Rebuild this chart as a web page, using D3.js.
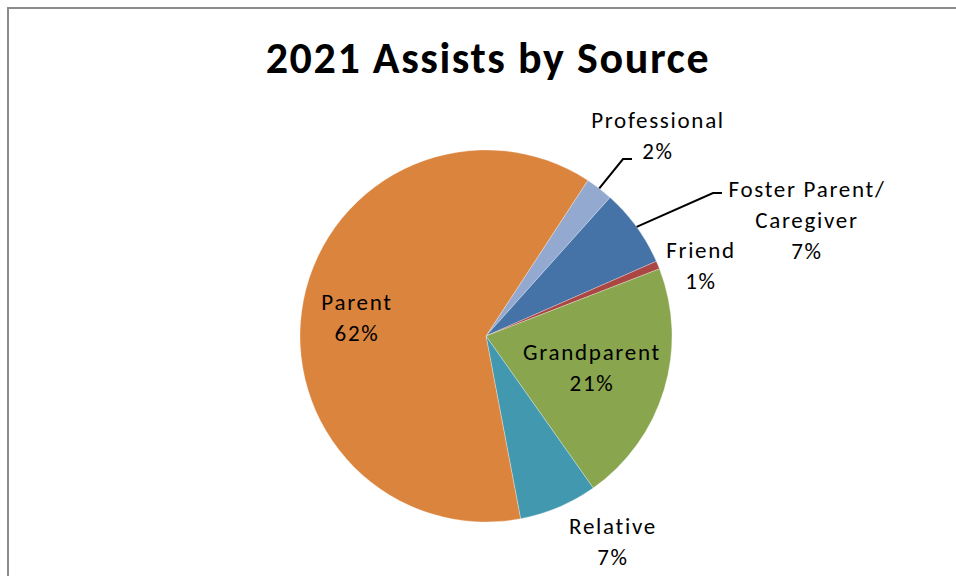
<!DOCTYPE html>
<html>
<head>
<meta charset="utf-8">
<script src="https://cdn.jsdelivr.net/npm/d3@7/dist/d3.min.js"></script>
<style>
  html, body { margin: 0; padding: 0; background: #fff; }
  svg { display: block; }
</style>
</head>
<body>
<svg id="chart" width="956" height="576"></svg>
<script>
// ---- data ----
const title = "2021 Assists by Source";
const categories = ["Professional", "Foster Parent/Caregiver", "Friend", "Grandparent", "Relative", "Parent"];
const labelLines = [["Professional"], ["Foster Parent/", "Caregiver"], ["Friend"], ["Grandparent"], ["Relative"], ["Parent"]];
const values = [2.4, 6.8, 0.7, 21.1, 6.8, 62.2];
const colors = ["#93A9CF", "#4572A7", "#AA4643", "#89A54E", "#4198AF", "#DB843D"];

// ---- layout ----
const W = 956, H = 576;
const cx = 486, cy = 336, R = 186;
const startDeg = 33.2;
const fontFam = "Carlito, Lato, 'Open Sans', sans-serif";
const labelSize = 23, lineH = 31, labelSpacing = 1.7;
// label block centers relative to pie centre, and leader elbows
const labelLayout = [
  { dx: 172, dy: -200, leader: [[137, -177], [146, -177]] },
  { dx: 321, dy: -116, leader: [[227, -143], [236, -143]] },
  { dx: 215, dy: -70 },
  { dx: 106, dy: 32 },
  { dx: 127, dy: 206 },
  { dx: -129, dy: -18 }
];

const svg = d3.select("#chart");

// frame
svg.append("rect")
  .attr("x", 8).attr("y", 8)
  .attr("width", W + 20).attr("height", H + 20)
  .attr("fill", "none").attr("stroke", "#8c8c8c").attr("stroke-width", 2);

// title
svg.append("text")
  .attr("x", 488).attr("y", 73)
  .attr("text-anchor", "middle")
  .attr("font-family", fontFam)
  .attr("font-weight", "bold")
  .attr("font-size", 44)
  .attr("letter-spacing", 1.6)
  .attr("fill", "#000")
  .text(title);

const data = categories.map((c, i) => ({ name: c, value: values[i], color: colors[i], lines: labelLines[i], i }));

const pie = d3.pie().value(d => d.value).sort(null)
  .startAngle(startDeg * Math.PI / 180)
  .endAngle(startDeg * Math.PI / 180 + 2 * Math.PI);
const arcs = pie(data);
const arc = d3.arc().innerRadius(0).outerRadius(R);
const edge = d3.arc().innerRadius(R).outerRadius(R);

const g = svg.append("g").attr("transform", `translate(${cx},${cy})`);

g.selectAll("path.slice").data(arcs).enter().append("path")
  .attr("class", "slice")
  .attr("d", arc)
  .attr("fill", d => d.data.color)
  .attr("stroke", "#ffffff")
  .attr("stroke-width", 0.6)
  .attr("stroke-opacity", 0.5);

const total = d3.sum(values);

// leaders
arcs.forEach((a, i) => {
  const L = labelLayout[i];
  if (!L.leader) return;
  const p0 = edge.centroid(a);
  const pts = [p0].concat(L.leader);
  g.append("path")
    .attr("d", d3.line()(pts))
    .attr("fill", "none")
    .attr("stroke", "#000")
    .attr("stroke-width", 2);
});

// labels
arcs.forEach((a, i) => {
  const L = labelLayout[i];
  const lines = a.data.lines.concat([Math.round(a.data.value / total * 100) + "%"]);
  const n = lines.length;
  const t = g.append("text")
    .attr("text-anchor", "middle")
    .attr("font-family", fontFam)
    .attr("font-size", labelSize)
    .attr("letter-spacing", labelSpacing)
    .attr("fill", "#000");
  lines.forEach((ln, k) => {
    t.append("tspan")
      .attr("x", L.dx)
      .attr("y", L.dy + (k - (n - 1) / 2) * lineH + labelSize * 0.34)
      .text(ln);
  });
});
</script>
</body>
</html>
